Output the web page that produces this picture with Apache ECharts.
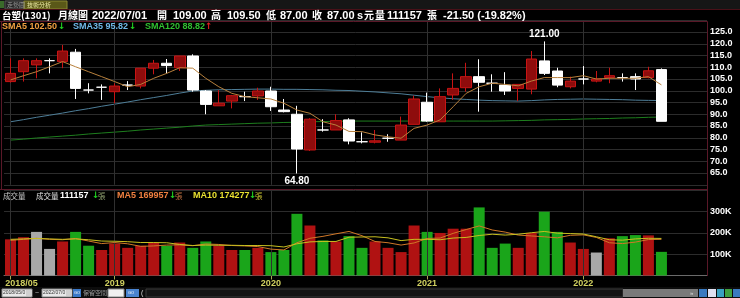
<!DOCTYPE html>
<html><head><meta charset="utf-8">
<script src="https://cdn.jsdelivr.net/npm/echarts@6/dist/echarts.min.js"></script>
<style>html,body{margin:0;padding:0;background:#000;overflow:hidden}#c{width:740px;height:298px}</style>
</head><body><div id="c"></div>
<script>
const months = ['2018/05','2018/06','2018/07','2018/08','2018/09','2018/10','2018/11','2018/12',
'2019/01','2019/02','2019/03','2019/04','2019/05','2019/06','2019/07','2019/08','2019/09','2019/10','2019/11','2019/12',
'2020/01','2020/02','2020/03','2020/04','2020/05','2020/06','2020/07','2020/08','2020/09','2020/10','2020/11','2020/12',
'2021/01','2021/02','2021/03','2021/04','2021/05','2021/06','2021/07','2021/08','2021/09','2021/10','2021/11','2021/12',
'2022/01','2022/02','2022/03','2022/04','2022/05','2022/06','2022/07'];
const padCats = ['p1','p2','p3'];
const openP  = [103.9,108.1,111.0,112.8,112.4,116.4,100.3,101.5,99.6,102.4,102.0,109.6,111.7,109.8,114.8,99.9,93.6,95.6,97.5,97.8,99.9,91.8,90.0,74.8,83.3,83.3,87.6,78.3,78.1,79.8,79.0,85.7,95.1,86.8,98.2,101.3,106.0,103.2,102.4,101.0,100.7,112.7,108.4,101.7,105.0,104.1,105.6,105.6,106.0,105.6,109.0];
const closeP = [107.4,112.8,112.8,112.8,116.9,101.0,100.3,101.5,102.0,102.4,109.6,111.7,110.7,114.8,100.3,94.2,94.7,97.9,97.5,99.9,93.2,91.1,75.2,87.9,83.3,87.3,78.6,78.3,78.7,79.8,85.4,96.5,87.1,97.5,101.0,106.0,103.6,103.2,99.9,102.7,113.5,107.4,102.4,104.1,105.0,105.0,106.4,105.6,105.0,108.5,87.0];
const lowP   = [103.5,103.9,105.3,107.4,109.6,96.5,98.9,96.1,94.7,100.3,101.0,107.0,107.4,108.4,99.6,90.0,93.6,92.5,95.6,96.1,91.4,90.8,64.8,74.4,82.6,83.3,77.2,77.6,77.6,78.3,79.0,85.7,86.8,86.8,96.1,99.6,91.1,99.6,98.2,95.6,98.5,106.7,101.5,101.0,102.7,103.6,103.2,103.9,100.3,105.3,87.0];
const highP  = [113.8,113.8,113.8,113.8,119.5,117.8,103.2,102.7,103.2,104.1,109.6,113.1,113.5,114.8,115.5,100.3,100.3,98.2,99.6,101.3,101.7,96.5,93.6,88.3,87.9,90.0,88.3,82.3,83.3,81.5,89.0,97.9,99.2,101.0,107.4,111.9,113.4,107.0,107.9,102.7,116.9,121.0,109.8,106.0,110.5,108.4,109.8,107.4,107.4,110.2,109.5];
const prevClose0 = 103.0;
const sma5   = [104.6,106.4,108.1,110.2,112.4,110.2,108.1,106.0,103.9,101.7,102.7,105.3,107.4,109.8,109.6,105.3,101.7,98.9,97.5,97.0,96.5,94.7,91.8,90.4,86.8,85.4,82.7,82.6,81.2,80.4,79.8,84.0,85.4,87.6,93.2,98.9,101.7,103.2,102.7,102.1,104.1,105.6,105.6,105.6,106.4,105.0,105.3,105.3,105.3,106.0,102.5];
const sma35  = [86.8,87.7,88.7,89.6,90.5,91.5,92.4,93.4,94.3,95.2,96.2,97.1,98.0,99.0,99.9,100.2,100.4,100.5,100.6,100.7,100.7,100.6,100.6,100.5,100.4,100.2,100.1,99.8,99.5,99.1,98.7,98.1,97.5,97.0,96.6,96.3,96.0,95.8,95.7,95.6,95.8,96.1,96.3,96.4,96.5,96.4,96.3,96.2,96.0,95.9,95.82];
const sma120 = [79.0,79.4,79.9,80.3,80.7,81.1,81.6,82.0,82.4,82.8,83.3,83.7,84.1,84.5,85.0,85.4,85.6,85.8,86.0,86.2,86.3,86.5,86.6,86.8,86.9,87.0,87.1,87.1,87.1,87.1,87.1,87.1,87.1,87.1,87.1,87.1,87.1,87.1,87.2,87.3,87.4,87.6,87.7,87.8,88.0,88.1,88.2,88.4,88.5,88.7,88.82];
const volume = [170000,180000,205000,125000,160000,205000,140000,120000,150000,130000,140000,155000,140000,155000,130000,160000,140000,120000,120000,130000,110000,120000,290000,235000,165000,160000,185000,130000,160000,130000,110000,235000,205000,200000,220000,220000,320000,130000,150000,130000,200000,300000,205000,155000,125000,108000,175000,185000,190000,188600,111157];
const volMa5  = [165000,170000,175000,170000,168000,174000,162000,150000,155000,149000,137000,139000,143000,144000,140000,148000,146000,141000,139000,136000,124000,120000,154000,175000,184000,196000,207000,187000,160000,154000,143000,153000,174000,176000,198000,216000,233000,214000,204000,190000,186000,182000,177000,189000,191000,179000,154000,150000,157000,169000,169957];
const volMa10 = [170000,172000,174000,172000,170000,172000,168000,162000,161000,159000,155000,155000,154000,146000,141000,143000,142000,142000,141000,141000,140000,134000,149000,158000,160000,160000,180000,181000,182000,177000,164000,170000,170000,168000,176000,179000,188000,194000,190000,194000,201000,207000,199000,197000,195000,182000,168000,166000,172000,175000,174277];
const xLabelIdx = {0:'2018/05', 8:'2019', 20:'2020', 32:'2021', 44:'2022'};
const priceTicks = {min:60, max:130, step:5};
const volTicks = {min:0, max:400000, step:100000};

const cats = months.concat(padCats);
const kData = openP.map((o,i)=>[o, closeP[i], lowP[i], highP[i]]);
const volData = volume.map((v,i)=>{
  const pc = i===0 ? prevClose0 : closeP[i-1];
  const c = closeP[i] > pc ? '#b01212' : (closeP[i] < pc ? '#1aa51a' : '#a8a8a8');
  return {value:v, itemStyle:{color:c}};
});
const yearLines = Object.keys(xLabelIdx).map(k=>({xAxis: months[+k]}));

const chart = echarts.init(document.getElementById('c'), null, {renderer:'canvas'});
const CJK = '"Noto Sans CJK TC"';
const NUM = '"Liberation Sans"';
function T(x,y,text,fill,font){return {type:'text',x:x,y:y,silent:true,z:100,style:{text:text,fill:fill,font:font,align:'left',verticalAlign:'middle'}};}
function R(x,y,w,h,fill,stroke){return {type:'rect',silent:true,z:90,shape:{x:x,y:y,width:w,height:h},style:{fill:fill,stroke:stroke||null,lineWidth:1}};}
function L(x1,y1,x2,y2,c){return {type:'line',silent:true,z:95,shape:{x1:x1,y1:y1,x2:x2,y2:y2},style:{stroke:c,lineWidth:1}};}

const hb = 'bold 11px '+NUM, hc = 'bold 10px '+CJK;
const graphics = [
  R(0,0,740,9,'#161616'),
  R(0,1,4,7,'#3a6a2a'),
  R(5,1,19,8,'#262626','#555'),
  T(7,5,'走勢圖','#9a9a9a','6px '+CJK),
  R(24,1,43,8,'#5a5818','#8a8830'),
  T(27,5,'技術分析','#e8e8a0','6px '+CJK),
  L(0,9.5,740,9.5,'#4a1018'),
  T(2,15.5,'台塑(1301)','#ffffff','bold 9.5px '+CJK),
  T(58,15.5,'月線圖','#ffffff',hc),
  T(92,15.5,'2022/07/01','#ffffff',hb),
  T(157,15.5,'開','#ffffff',hc), T(173,15.5,'109.00','#ffffff',hb),
  T(211,15.5,'高','#ffffff',hc), T(227,15.5,'109.50','#ffffff',hb),
  T(266,15.5,'低','#ffffff',hc), T(280,15.5,'87.00','#ffffff',hb),
  T(312,15.5,'收','#ffffff',hc), T(327,15.5,'87.00','#ffffff',hb),
  T(357,15.5,'s','#ffffff',hb), T(364,15.5,'元','#ffffff',hc),
  T(375,15.5,'量','#ffffff',hc), T(387,15.5,'111157','#ffffff',hb), T(427,15.5,'張','#ffffff',hc),
  T(443,15.5,'-21.50 (-19.82%)','#ffffff',hb),
  L(0,21.5,707.5,21.5,'#5a1828'),
  L(1.5,21.5,1.5,189,'#5a1828'),
  L(707.5,21.5,707.5,276,'#5a1828'),
  L(0,189.5,707.5,189.5,'#5a1828'),
  T(2,27,'SMA5 102.50','#f0a040','bold 9px '+NUM),
  T(58,27,'↓','#20d020','bold 9px "DejaVu Sans"'),
  T(73,27,'SMA35 95.82','#70b8e8','bold 9px '+NUM),
  T(129,27,'↓','#20d020','bold 9px "DejaVu Sans"'),
  T(145,27,'SMA120 88.82','#30c030','bold 9px '+NUM),
  T(205,27,'↑','#e02020','bold 9px "DejaVu Sans"'),
  T(3,196,'成交量','#c8c8c8','7.5px '+CJK),
  T(36,196,'成交量','#e0e0e0','7.5px '+CJK),
  T(60,196,'111157','#ffffff','bold 9px '+NUM),
  T(92,196,'↓','#20d020','bold 9px "DejaVu Sans"'),
  T(98,196,'張','#90a070','7.5px '+CJK),
  T(117,196,'MA5 169957','#f08040','bold 9px '+NUM),
  T(169,196,'↓','#20d020','bold 9px "DejaVu Sans"'),
  T(175,196,'張','#c07040','7.5px '+CJK),
  T(193,196,'MA10 174277','#e8e030','bold 9px '+NUM),
  T(249,196,'↓','#20d020','bold 9px "DejaVu Sans"'),
  T(255,196,'張','#c8c030','7.5px '+CJK),
  // bottom toolbar
  R(0,287,740,11,'#0c0c0c'),
  R(2,289,30,8,'#e8e8e8','#888'), T(3,293,'2018/05/0','#333','5px '+NUM), R(26,290,6,6,'#d0d0d0'),
  T(35,293,'~','#bbb','7px '+NUM),
  R(42,289,30,8,'#e8e8e8','#888'), T(43,293,'2022/07/0','#333','5px '+NUM), R(66,290,6,6,'#d0d0d0'),
  R(73,289,8,8,'#3a78c8'), T(74,293,'GO','#fff','4px '+NUM),
  T(83,293,'保留空間','#a0a0a0','6px '+CJK),
  R(108,289,16,8,'#f0f0f0','#888'),
  R(126,289,13,8,'#4a84d0'), T(128,293,'GO','#fff','4px '+NUM),
  T(141,293,'(','#ddd','7px '+NUM),
  R(146,289,477,8,'#141414','#3a3a3a'),
  R(623,289,75,8,'#7a7a7a'),
  T(690,293,'»','#ddd','6px '+NUM),
  R(699,289,8,8,'#3a7ac0'), R(708,289,8,8,'#e0e0f0'), R(717,289,7,8,'#3aa0c0'), R(725,289,7,8,'#40a040'), R(733,289,7,8,'#3a7ac0')
];

const option = {
  backgroundColor:'#000',
  animation:false,
  grid:[
    {left:4, right:33, top:20.25, height:164.5},
    {left:4, right:33, top:190.4, height:85.1}
  ],
  xAxis:[
    {type:'category', gridIndex:0, data:cats, boundaryGap:true, axisLine:{show:false}, axisTick:{show:false}, axisLabel:{show:false}, splitLine:{show:false}},
    {type:'category', gridIndex:1, data:cats, boundaryGap:true,
      axisLine:{show:true, lineStyle:{color:'#6a6a6a'}},
      axisTick:{show:true, alignWithLabel:true, length:4, interval:(i)=>xLabelIdx[i]!==undefined, lineStyle:{color:'#a8a850'}},
      axisLabel:{show:true, interval:(i)=>xLabelIdx[i]!==undefined, formatter:(v,i)=> i===0 ? '{f|'+xLabelIdx[i]+'}' : (xLabelIdx[i]||''),
        color:'#d0d060', fontSize:9, fontWeight:'bold', fontFamily:'Liberation Sans', margin:4,
        rich:{f:{color:'#d0d060', fontSize:9, fontWeight:'bold', fontFamily:'Liberation Sans', padding:[0,0,0,22]}}},
      splitLine:{show:false}}
  ],
  yAxis:[
    {type:'value', gridIndex:0, position:'right', min:priceTicks.min, max:priceTicks.max, interval:priceTicks.step,
      axisLine:{show:false}, axisTick:{show:false},
      splitLine:{show:true, lineStyle:{color:'#2c2c2c', width:1}},
      axisLabel:{color:'#ffffff', fontSize:9, fontWeight:'bold', fontFamily:'Liberation Sans', margin:3,
        formatter:(v)=> (v===priceTicks.min||v===priceTicks.max)?'':v.toFixed(1)}},
    {type:'value', gridIndex:1, position:'right', min:volTicks.min, max:volTicks.max, interval:volTicks.step,
      axisLine:{show:false}, axisTick:{show:false},
      splitLine:{show:true, lineStyle:{color:'#2c2c2c', width:1}},
      axisLabel:{color:'#ffffff', fontSize:9, fontWeight:'bold', fontFamily:'Liberation Sans', margin:3,
        formatter:(v)=> (v===volTicks.min||v===volTicks.max)?'':(v/1000)+'K'}}
  ],
  series:[
    {type:'candlestick', xAxisIndex:0, yAxisIndex:0, data:kData, barWidth:11, z:5,
      itemStyle:{color:'#8e0c0c', color0:'#ffffff', borderColor:'#c81414', borderColor0:'#ffffff', borderColorDoji:'#ffffff', borderWidth:1},
      markLine:{silent:true, symbol:['none','none'], label:{show:false}, animation:false,
        lineStyle:{color:'#303030', width:1, type:'solid'}, data:yearLines},
      markPoint:{silent:true, symbol:'rect', symbolSize:[1,1], itemStyle:{color:'rgba(0,0,0,0)'},
        label:{show:true, color:'#ffffff', fontSize:10, fontWeight:'bold', fontFamily:'Liberation Sans', formatter:(p)=>Number(p.value).toFixed(2)},
        data:[
          {type:'max', valueDim:'highest', label:{position:'top', distance:2}},
          {type:'min', valueDim:'lowest', label:{position:'bottom', distance:2}}
        ]}},
    {type:'line', xAxisIndex:0, yAxisIndex:0, data:sma5, showSymbol:false, z:6, lineStyle:{color:'#b8803c', width:1}},
    {type:'line', xAxisIndex:0, yAxisIndex:0, data:sma35, showSymbol:false, z:4, lineStyle:{color:'#4e7e98', width:1}},
    {type:'line', xAxisIndex:0, yAxisIndex:0, data:sma120, showSymbol:false, z:4, lineStyle:{color:'#1e7e1e', width:1}},
    {type:'bar', xAxisIndex:1, yAxisIndex:1, data:volData, barWidth:11, z:3,
      markLine:{silent:true, symbol:['none','none'], label:{show:false}, animation:false,
        lineStyle:{color:'#303030', width:1, type:'solid'}, data:yearLines}},
    {type:'line', xAxisIndex:1, yAxisIndex:1, data:volMa5, showSymbol:false, z:6, lineStyle:{color:'#d07828', width:1}},
    {type:'line', xAxisIndex:1, yAxisIndex:1, data:volMa10, showSymbol:false, z:6, lineStyle:{color:'#c8c020', width:1}}
  ],
  graphic:graphics
};
chart.setOption(option);
</script>
</body></html>
